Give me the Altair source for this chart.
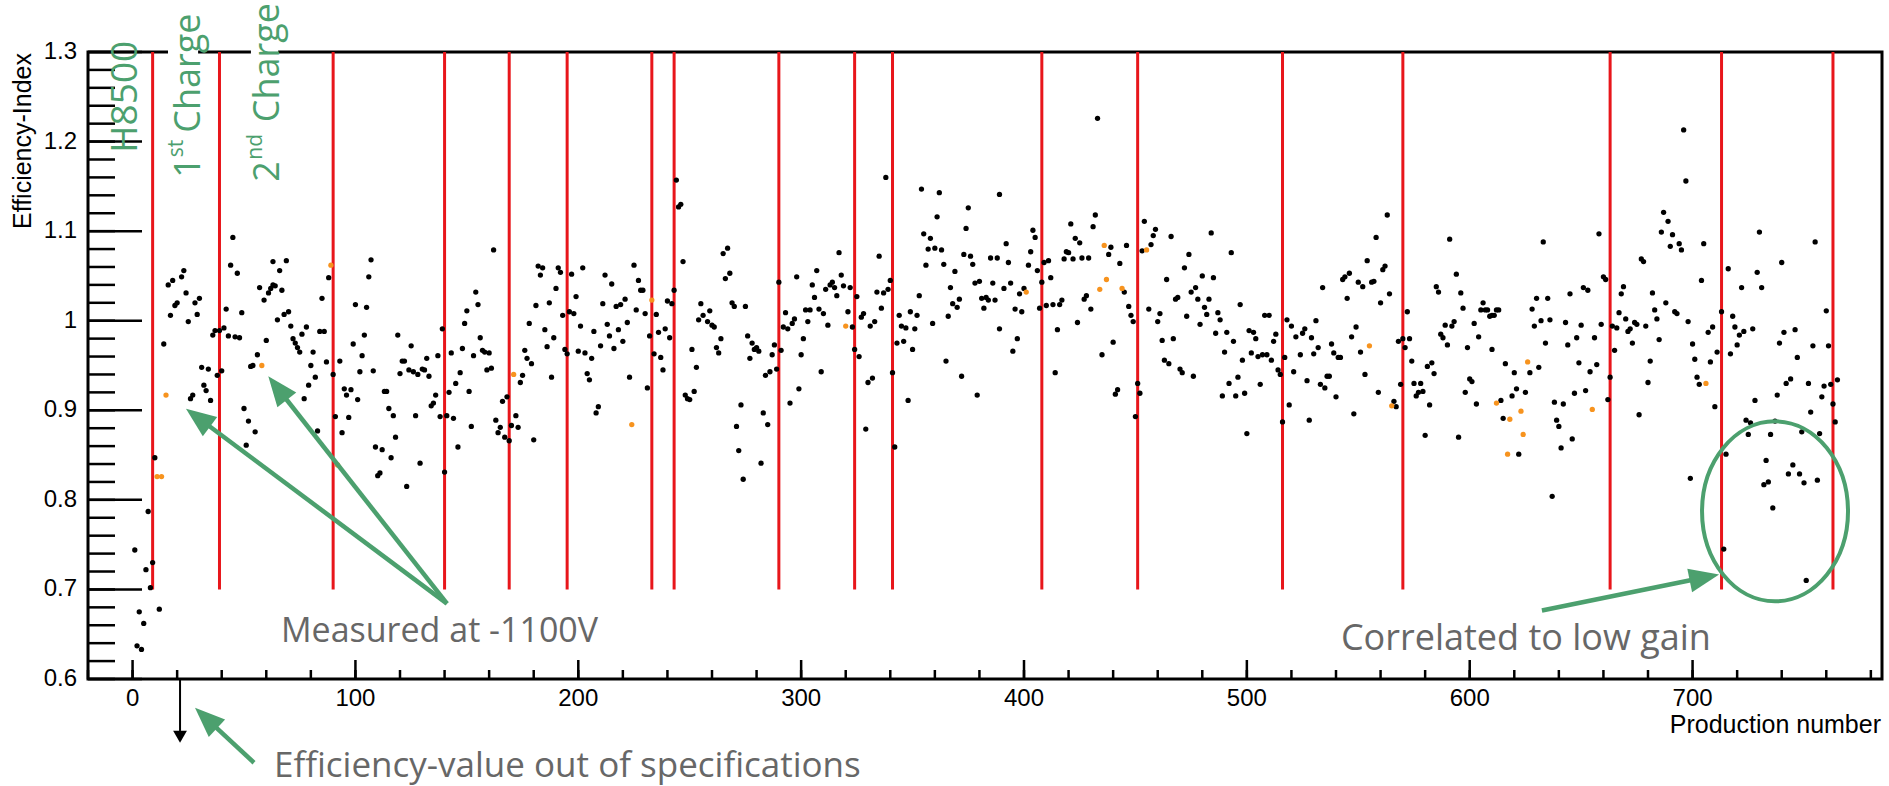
import math
import altair as alt
import pandas as pd

# ---------------- data (production number, efficiency index) ----------------
seg_000_120 = [
    (1, 0.744), (3, 0.675), (5, 0.662), (2, 0.637), (4, 0.633), (6, 0.722), (7, 0.787), (9, 0.730),
    (8, 0.702), (10, 0.847), (12, 0.678), (14, 0.974), (16, 1.040), (18, 1.045), (17, 1.006),
    (19, 1.017), (20, 1.020), (22, 1.049), (23, 1.056), (24, 1.031), (25, 0.999), (28, 1.020),
    (30, 1.025), (29, 1.007), (26, 0.913), (27, 0.917), (31, 0.948), (34, 0.946), (32, 0.928),
    (33, 0.922), (35, 0.911), (36, 0.984), (37, 0.989), (39, 0.989), (38, 0.939), (40, 0.944),
    (41, 0.992), (42, 1.013), (43, 0.983), (44, 1.062), (45, 1.093), (47, 1.053), (46, 0.982),
    (48, 0.981), (49, 1.009), (50, 0.902), (52, 0.888), (51, 0.861), (55, 0.876), (53, 0.949),
    (54, 0.950), (56, 0.962), (57, 1.037), (59, 1.023), (60, 0.978), (61, 1.031), (62, 1.036),
    (63, 1.040), (63, 1.066), (64, 1.039), (66, 1.056), (67, 1.034), (69, 1.067), (65, 1.001),
    (68, 1.007), (70, 1.010), (71, 0.994), (72, 0.980), (73, 0.975), (74, 0.970), (75, 0.965),
    (76, 0.985), (78, 0.993), (77, 0.913), (79, 0.928), (80, 0.950), (81, 0.965), (82, 0.937),
    (83, 0.877), (84, 0.988), (86, 0.988), (85, 1.025), (87, 0.954), (88, 1.048), (90, 0.940),
    (91, 0.893), (93, 0.955), (94, 0.875), (95, 0.924), (96, 0.917), (98, 0.923), (97, 0.892),
    (99, 0.974), (100, 1.018), (101, 0.912), (102, 0.943), (103, 0.961), (104, 0.984), (105, 1.015),
    (106, 1.049), (107, 1.068), (108, 0.944), (109, 0.859), (112, 0.856), (110, 0.827), (111, 0.830),
    (113, 0.921), (114, 0.921), (115, 0.902), (116, 0.847), (117, 0.894), (118, 0.870), (119, 0.984),
    (120, 0.941),
]
seg_120_255 = [
    (121, 0.955), (122, 0.955), (125, 0.972), (124, 0.945), (126, 0.943), (128, 0.940), (127, 0.894),
    (129, 0.841), (123, 0.815), (130, 0.946), (131, 0.945), (132, 0.958), (133, 0.938), (134, 0.905),
    (135, 0.908), (136, 0.917), (137, 0.961), (138, 0.893), (141, 0.894), (139, 0.991), (140, 0.831),
    (142, 0.920), (143, 0.964), (144, 0.891), (145, 0.930), (146, 0.859), (147, 0.942), (148, 0.969),
    (149, 0.997), (150, 1.011), (151, 0.921), (152, 0.882), (153, 0.961), (154, 1.032), (155, 1.018),
    (156, 0.981), (157, 0.967), (158, 0.965), (160, 0.964), (159, 0.945), (161, 0.947), (162, 1.079),
    (163, 0.889), (165, 0.881), (164, 0.875), (166, 0.910), (167, 0.870), (169, 0.866), (168, 0.915),
    (170, 0.883), (172, 0.894), (173, 0.881), (174, 0.931), (175, 0.939), (176, 0.967), (177, 0.958),
    (179, 0.952), (178, 0.997), (180, 0.867), (181, 1.017), (182, 1.061), (184, 1.059), (183, 1.051),
    (185, 0.990), (186, 0.971), (187, 1.020), (188, 0.937), (189, 0.981), (190, 1.036), (191, 1.059),
    (192, 1.054), (193, 1.006), (194, 0.968), (195, 0.963), (196, 1.010), (198, 1.008), (197, 1.052),
    (199, 1.027), (200, 0.966), (201, 0.994), (202, 1.059), (203, 0.964), (204, 0.941), (205, 0.934),
    (206, 0.958), (207, 0.988), (208, 0.897), (209, 0.904), (210, 0.972), (211, 1.019), (212, 1.051),
    (213, 0.996), (214, 0.983), (215, 1.041), (216, 0.969), (217, 1.016), (219, 1.018), (218, 0.990),
    (220, 0.977), (221, 1.024), (222, 0.998), (223, 0.937), (225, 1.062), (226, 1.012), (227, 1.045),
    (228, 1.034), (229, 1.034), (230, 1.008), (231, 0.925), (232, 0.983), (234, 0.963), (235, 1.007),
    (236, 0.987), (237, 0.959), (238, 0.945), (239, 0.991), (240, 1.022), (241, 0.981), (242, 1.019),
    (243, 1.034), (244, 1.157), (245, 1.127), (246, 1.130), (247, 1.066), (248, 0.917), (249, 0.913),
    (250, 0.912), (252, 0.921), (251, 0.968), (253, 0.948), (254, 1.001), (255, 1.019),
]
seg_255_390 = [
    (256, 1.006), (258, 0.999), (259, 1.011), (260, 0.995), (261, 0.993), (262, 0.970), (263, 0.964),
    (264, 0.980), (265, 1.075), (266, 1.047), (267, 1.081), (268, 1.053), (269, 1.020), (270, 1.016),
    (271, 0.882), (272, 0.855), (273, 0.906), (274, 0.823), (275, 1.016), (276, 0.983), (277, 0.958),
    (278, 0.975), (279, 0.968), (280, 0.970), (281, 0.966), (282, 0.841), (283, 0.897), (284, 0.939),
    (286, 0.943), (285, 0.884), (287, 0.962), (288, 0.973), (289, 0.946), (290, 1.043), (291, 0.967),
    (292, 0.993), (293, 1.009), (294, 0.991), (295, 0.908), (296, 0.997), (297, 1.002), (298, 1.049),
    (299, 0.924), (300, 0.962), (301, 0.980), (302, 1.012), (303, 0.999), (304, 1.012), (305, 1.040),
    (306, 1.026), (307, 1.056), (308, 1.013), (309, 0.943), (310, 1.008), (311, 1.035), (312, 0.995),
    (313, 1.040), (314, 1.043), (315, 1.037), (316, 1.028), (317, 1.076), (318, 1.051), (319, 1.039),
    (321, 1.010), (322, 1.037), (323, 0.993), (324, 0.968), (325, 1.027), (326, 0.960), (327, 1.004),
    (328, 1.008), (329, 0.879), (330, 0.931), (331, 0.994), (332, 0.936), (333, 0.999), (334, 1.032),
    (335, 1.072), (336, 1.014), (337, 1.031), (338, 1.160), (339, 1.035), (340, 1.045), (341, 0.942),
    (342, 0.859), (343, 0.975), (344, 1.006), (345, 0.994), (346, 0.977), (347, 0.992), (348, 0.911),
    (349, 1.010), (350, 0.968), (351, 0.991), (352, 1.006), (353, 1.028), (354, 1.147), (355, 1.097),
    (356, 1.062), (357, 1.080), (358, 1.092), (359, 0.997), (360, 1.081), (361, 1.116), (362, 1.143),
    (363, 1.079), (364, 1.063), (365, 0.955), (366, 1.005), (367, 1.037), (368, 1.019), (369, 1.055),
    (370, 1.015), (371, 1.024), (372, 0.938), (373, 1.074), (374, 1.103), (375, 1.126), (376, 1.072),
    (377, 1.063), (378, 1.042), (379, 0.917), (380, 1.044), (381, 1.025), (382, 1.014), (383, 1.026),
    (384, 1.023), (385, 1.070), (386, 1.042), (387, 1.023), (388, 1.070), (389, 0.991), (389, 1.141),
]
seg_390_524 = [
    (392, 1.086), (391, 1.036), (393, 1.065), (394, 1.042), (395, 0.966), (396, 1.013), (397, 0.980),
    (398, 1.030), (399, 1.010), (400, 1.036), (402, 1.062), (403, 1.077), (404, 1.101), (405, 1.093),
    (406, 1.056), (407, 1.014), (408, 1.043), (409, 1.065), (410, 1.017), (411, 1.067), (412, 1.048),
    (413, 1.018), (414, 0.942), (415, 0.990), (416, 1.018), (417, 1.023), (418, 1.069), (419, 1.077),
    (420, 1.076), (421, 1.108), (422, 1.069), (423, 1.092), (424, 0.998), (425, 1.087), (426, 1.070),
    (427, 1.024), (428, 1.028), (429, 1.070), (430, 1.013), (431, 1.105), (432, 1.118), (433, 1.226),
    (435, 0.962), (438, 1.074), (439, 1.082), (440, 0.976), (441, 0.918), (442, 0.923), (443, 1.064),
    (445, 1.032), (446, 1.084), (447, 1.016), (448, 1.006), (449, 0.999), (450, 0.893), (451, 0.930),
    (452, 0.919), (453, 1.078), (454, 1.111), (456, 1.013), (457, 1.085), (458, 1.095), (459, 1.102),
    (460, 0.999), (461, 1.008), (462, 0.978), (463, 0.956), (464, 1.046), (465, 0.952), (466, 1.094),
    (467, 0.980), (468, 1.024), (469, 1.026), (470, 0.946), (471, 0.942), (472, 1.059), (473, 1.005),
    (474, 1.074), (475, 1.032), (476, 0.938), (477, 1.037), (478, 1.024), (479, 0.996), (480, 1.050),
    (481, 1.015), (482, 1.007), (483, 1.024), (484, 1.098), (485, 1.048), (486, 0.986), (487, 1.009),
    (488, 1.001), (489, 0.916), (490, 0.965), (491, 0.987), (492, 0.930), (493, 1.076), (494, 0.977),
    (495, 0.916), (496, 0.937), (497, 1.018), (498, 0.956), (499, 0.919), (500, 0.874), (501, 0.989),
    (503, 0.987), (502, 0.964), (504, 0.980), (505, 0.960), (506, 0.929), (507, 0.962), (508, 1.006),
    (510, 1.006), (509, 0.962), (511, 0.956), (512, 0.977), (513, 0.985), (514, 0.945), (515, 0.940),
    (516, 0.887), (517, 0.959), (518, 1.001), (519, 0.906), (520, 0.994), (521, 0.943), (522, 0.982),
]
seg_524_659 = [
    (524, 0.962), (525, 0.986), (526, 0.991), (527, 0.933), (528, 0.889), (529, 0.981), (530, 0.963),
    (531, 1.000), (532, 0.970), (533, 0.929), (534, 1.037), (535, 0.925), (536, 0.938), (537, 0.938),
    (538, 0.974), (539, 0.964), (540, 0.915), (541, 0.959), (542, 0.959), (543, 1.046), (544, 1.049),
    (545, 1.025), (546, 1.053), (547, 0.982), (548, 0.896), (549, 0.993), (550, 1.043), (551, 0.965),
    (552, 1.038), (553, 0.940), (554, 1.067), (556, 1.043), (557, 1.044), (558, 1.093), (559, 0.920),
    (560, 1.020), (561, 1.057), (562, 1.061), (563, 1.118), (564, 1.030), (566, 0.910), (567, 0.904),
    (568, 0.977), (569, 0.929), (570, 0.980), (571, 0.970), (572, 1.010), (573, 0.980), (574, 0.955),
    (575, 0.930), (578, 0.930), (576, 0.916), (577, 0.920), (579, 0.921), (580, 0.872), (581, 0.949),
    (583, 0.953), (582, 0.906), (584, 0.941), (585, 1.038), (586, 1.032), (587, 0.985), (588, 0.981),
    (589, 0.995), (590, 0.973), (591, 1.091), (592, 0.994), (593, 0.999), (594, 1.052), (595, 0.870),
    (596, 1.031), (597, 1.014), (598, 0.920), (599, 0.970), (600, 0.935), (601, 0.932), (602, 0.997),
    (603, 0.907), (604, 0.982), (605, 1.012), (606, 1.020), (607, 1.012), (608, 1.012), (609, 1.005),
    (610, 1.006), (611, 1.006), (610, 0.968), (612, 1.012), (613, 1.012), (614, 0.911), (615, 0.891),
    (616, 0.952), (619, 0.916), (620, 0.942), (621, 0.924), (622, 0.851), (625, 0.920), (627, 0.942),
    (628, 1.013), (629, 0.994), (630, 1.025), (631, 0.948), (632, 1.000), (633, 1.088), (634, 0.975),
    (635, 1.025), (636, 1.001), (637, 0.804), (638, 0.909), (639, 0.889), (640, 0.882), (641, 0.858),
    (642, 0.907), (643, 0.998), (644, 0.973), (645, 1.030), (646, 0.868), (647, 0.919), (648, 0.981),
    (649, 0.953), (650, 0.995), (651, 1.037), (653, 1.034), (652, 0.922), (654, 0.943), (656, 0.981),
    (657, 0.951), (658, 1.097), (659, 0.996),
]
seg_659_770 = [
    (660, 1.049), (661, 1.046), (663, 0.937), (662, 0.912), (664, 0.994), (666, 0.992), (665, 0.967),
    (667, 1.009), (668, 1.030), (669, 1.038), (670, 1.002), (671, 0.988), (672, 0.991), (673, 0.975),
    (674, 0.998), (675, 0.996), (676, 0.895), (677, 1.069), (678, 1.066), (679, 0.994), (680, 0.931),
    (681, 0.955), (682, 1.031), (683, 1.012), (684, 1.002), (685, 0.979), (686, 1.099), (687, 1.121),
    (688, 1.020), (689, 1.111), (690, 1.083), (691, 1.096), (692, 1.010), (693, 1.008), (694, 1.086),
    (695, 1.079), (696, 1.213), (697, 1.156), (698, 0.999), (699, 0.824), (700, 0.974), (701, 0.957),
    (702, 0.937), (703, 0.929), (704, 1.045), (705, 1.086), (707, 0.987), (708, 0.954), (709, 0.993),
    (710, 0.904), (711, 0.965), (713, 1.010), (714, 0.745), (715, 0.851), (716, 1.058), (717, 0.963),
    (718, 1.005), (719, 0.993), (720, 0.973), (721, 0.984), (722, 1.037), (723, 0.988), (724, 0.889),
    (726, 0.886), (725, 0.873), (727, 0.991), (728, 0.911), (729, 1.054), (730, 1.099), (731, 1.037),
    (732, 0.817), (734, 0.820), (733, 0.844), (735, 0.873), (736, 0.791), (737, 0.888), (738, 0.917),
    (739, 0.975), (740, 1.065), (741, 0.987), (742, 0.930), (743, 0.829), (744, 0.935), (745, 0.839),
    (746, 0.990), (747, 0.959), (748, 0.829), (749, 0.876), (750, 0.819), (751, 0.710), (752, 0.930),
    (753, 0.898), (754, 0.972), (755, 1.088), (756, 0.822), (757, 0.874), (758, 0.915), (759, 0.927),
    (760, 1.011), (761, 0.972), (762, 0.929), (763, 0.907), (764, 0.887), (765, 0.934),
]
# PMTs measured at -1100 V (orange)
measured_1100v = [
    (11, 0.826), (13, 0.826), (15, 0.917), (58, 0.950), (89, 1.062), (92, 0.839), (171, 0.940),
    (224, 0.884), (233, 1.023), (320, 0.994), (401, 1.032), (434, 1.035), (436, 1.084), (437, 1.046),
    (444, 1.036), (455, 1.079), (555, 0.972), (565, 0.905), (612, 0.908), (617, 0.851), (618, 0.890),
    (623, 0.899), (624, 0.873), (626, 0.954), (655, 0.901), (706, 0.930),
]
# production numbers where a new delivery batch starts (red lines)
batch_starts = [9, 39, 90, 140, 169, 195, 233, 243, 290, 324, 341, 408, 451, 516, 570, 663, 713, 763]
batch_low, batch_high = 0.7, 1.3

x_labels = [0, 100, 200, 300, 400, 500, 600, 700]
x_label_text = ["0", "100", "200", "300", "400", "500", "600", "700"]
y_labels = [0.6, 0.7, 0.8, 0.9, 1.0, 1.1, 1.2, 1.3]
y_label_text = ["0.6", "0.7", "0.8", "0.9", "1", "1.1", "1.2", "1.3"]
x_ticks = list(range(-20, 781, 20))
y_ticks = [round(0.6 + 0.02 * i, 2) for i in range(36)]

# ---------------- layout / style ----------------
W, H = 1794, 627
XD, YD = [-20, 785], [0.6, 1.3]
XS = W / (XD[1] - XD[0])
YS = H / (YD[1] - YD[0])
GREEN = "#4ca06e"
GREY = "#676767"
RED = "#e8161b"
ORANGE = "#f7931e"
AXFONT = "Liberation Sans"
NOTEFONT = "Open Sans"

xscale = alt.Scale(domain=XD, nice=False, zero=False)
yscale = alt.Scale(domain=YD, nice=False, zero=False)


def X(field):
    return alt.X(field, type="quantitative", scale=xscale, axis=None)


def Y(field):
    return alt.Y(field, type="quantitative", scale=yscale, axis=None)


rows = [{"production": p, "efficiency": e, "hv": "nominal"}
        for seg in (seg_000_120, seg_120_255, seg_255_390, seg_390_524, seg_524_659, seg_659_770)
        for p, e in seg]
rows += [{"production": p, "efficiency": e, "hv": "-1100V"} for p, e in measured_1100v]
pts = pd.DataFrame(rows)

points = alt.Chart(pts).mark_circle(size=28, opacity=1).encode(
    x=X("production"),
    y=Y("efficiency"),
    color=alt.Color("hv:N", scale=alt.Scale(domain=["nominal", "-1100V"], range=["#000000", ORANGE]),
                    legend=None),
)

# ---------------- ROOT-style axes (inward ticks, labels, titles) ----------------
ytick_df = pd.DataFrame({"v": y_ticks})
ymaj_df = pd.DataFrame({"v": y_labels, "t": y_label_text})
xtick_df = pd.DataFrame({"v": x_ticks})
xmaj_df = pd.DataFrame({"v": x_labels, "t": x_label_text})
ytick_minor = alt.Chart(ytick_df).mark_rule(color="black", strokeWidth=2.5).encode(
    y=Y("v"), x=alt.value(0), x2=alt.value(27))
ytick_major = alt.Chart(ymaj_df).mark_rule(color="black", strokeWidth=2.5).encode(
    y=Y("v"), x=alt.value(0), x2=alt.value(54))
xtick_minor = alt.Chart(xtick_df).mark_rule(color="black", strokeWidth=2.5).encode(
    x=X("v"), y=alt.value(H), y2=alt.value(H - 9))
xtick_major = alt.Chart(xmaj_df).mark_rule(color="black", strokeWidth=2.5).encode(
    x=X("v"), y=alt.value(H), y2=alt.value(H - 19))
ylab = alt.Chart(ymaj_df).mark_text(align="right", baseline="middle", font=AXFONT, fontSize=24,
                                    color="black").encode(y=Y("v"), x=alt.value(-11), text="t:N")
xlab = alt.Chart(xmaj_df).mark_text(align="center", baseline="top", font=AXFONT, fontSize=24,
                                    color="black").encode(x=X("v"), y=alt.value(H + 8), text="t:N")
xtitle = alt.Chart(pd.DataFrame({"t": ["Production number"]})).mark_text(
    align="right", baseline="alphabetic", font=AXFONT, fontSize=25, color="black").encode(
    x=alt.value(W - 1), y=alt.value(H + 54), text="t:N")
ytitle = alt.Chart(pd.DataFrame({"t": ["Efficiency-Index"]})).mark_text(
    align="right", baseline="middle", angle=270, font=AXFONT, fontSize=25, color="black").encode(
    x=alt.value(-65), y=alt.value(1), text="t:N")

red_df = pd.DataFrame({"x": batch_starts, "lo": batch_low, "hi": batch_high})
red = alt.Chart(red_df).mark_rule(color=RED, strokeWidth=3).encode(x=X("x"), y=Y("lo"), y2="hi")

# ---------------- annotations ----------------
arrow_defs = [  # start (production, efficiency) -> tip
    (141.1, 0.6841, 23.97, 0.9018),
    (141.1, 0.6841, 60.90, 0.9379),
    (54.49, 0.5065, 28.01, 0.5679),
    (632.4, 0.6765, 711.9, 0.7167),
]
HEAD_LEN = 30
arows = []
for sx, sy, tx, ty in arrow_defs:
    dx = (tx - sx) * XS
    dy = -(ty - sy) * YS
    n = math.hypot(dx, dy)
    ux, uy = dx / n, dy / n
    arows.append({"sx": sx, "sy": sy, "ex": tx - ux * (HEAD_LEN * 0.6) / XS,
                  "ey": ty + uy * (HEAD_LEN * 0.6) / YS, "tx": tx, "ty": ty,
                  "ang": math.degrees(math.atan2(dx, -dy)) % 360})
arrow_df = pd.DataFrame(arows)
HEAD = "M0,0L0.8,2L-0.8,2Z"
arrow_lines = alt.Chart(arrow_df).mark_rule(color=GREEN, strokeWidth=4.5).encode(
    x=X("sx"), y=Y("sy"), x2="ex", y2="ey")
arrow_heads = alt.Chart(arrow_df).mark_point(shape=HEAD, filled=True, size=HEAD_LEN ** 2,
                                             color=GREEN, opacity=1).encode(
    x=X("tx"), y=Y("ty"), angle=alt.Angle("ang:Q", scale=None))

# black arrow below the axis: efficiency-value out of specification
spec_df = pd.DataFrame({"x": [21.3], "y0": [0.6], "y1": [0.5420], "tip": [0.5289], "ang": [180]})
spec_line = alt.Chart(spec_df).mark_rule(color="black", strokeWidth=2).encode(
    x=X("x"), y=Y("y0"), y2="y1")
spec_head = alt.Chart(spec_df).mark_point(shape="M0,0L1.15,2L-1.15,2Z", filled=True, size=144,
                                          color="black", opacity=1).encode(
    x=X("x"), y=Y("tip"), angle=alt.Angle("ang:Q", scale=None))

# ellipse around the low-gain PMTs
ELLIPSE = ("M0.811,0C0.811,0.552,0.448,1,0,1C-0.448,1,-0.811,0.552,-0.811,0"
           "C-0.811,-0.552,-0.448,-1,0,-1C0.448,-1,0.811,-0.552,0.811,0Z")
ell_df = pd.DataFrame({"x": [737.0], "y": [0.7872]})
ellipse = alt.Chart(ell_df).mark_point(shape=ELLIPSE, filled=False, size=180 ** 2, color=GREEN,
                                       strokeWidth=4, opacity=1).encode(x=X("x"), y=Y("y"))

# white boxes behind the rotated labels (cut the frame like the original)
gap_df = pd.DataFrame({"x0": [15.9, 53.1], "x1": [29.4, 65.3], "y0": [1.2955, 1.2955], "y1": [1.3045, 1.3045]})
gaps = alt.Chart(gap_df).mark_rect(color="white").encode(x=X("x0"), x2="x1", y=Y("y0"), y2="y1")

h_df = pd.DataFrame({"t": ["H8500"], "x": [1.99], "y": [1.1876]})
h_text = alt.Chart(h_df).mark_text(angle=270, align="left", baseline="alphabetic", font=NOTEFONT,
                                   fontSize=37, color=GREEN).encode(x=X("x"), y=Y("y"), text="t:N")
num_df = pd.DataFrame({"t": ["1", "2"], "x": [30.26, 65.70], "y": [1.1597, 1.1552]})
num_text = alt.Chart(num_df).mark_text(angle=270, align="left", baseline="alphabetic", font=NOTEFONT,
                                       fontSize=36, color=GREEN).encode(x=X("x"), y=Y("y"), text="t:N")
charge_df = pd.DataFrame({"t": ["Charge", "Charge"], "x": [30.26, 65.70], "y": [1.2099, 1.2216]})
charge_text = alt.Chart(charge_df).mark_text(angle=270, align="left", baseline="alphabetic",
                                             font=NOTEFONT, fontSize=36, color=GREEN).encode(
    x=X("x"), y=Y("y"), text="t:N")
sup_df = pd.DataFrame({"t": ["st", "nd"], "x": [22.63, 58.08], "y": [1.1826, 1.1798]})
sup_text = alt.Chart(sup_df).mark_text(angle=270, align="left", baseline="alphabetic", font=NOTEFONT,
                                       fontSize=21, color=GREEN).encode(x=X("x"), y=Y("y"), text="t:N")

note_df = pd.DataFrame({
    "t": ["Measured at -1100V", "Efficiency-value out of specifications", "Correlated to low gain"],
    "x": [66.6, 63.46, 542.2],
    "y": [0.6416, 0.4909, 0.6327],
    "s": [34, 35, 36],
})
notes = alt.Chart(note_df).mark_text(align="left", baseline="alphabetic", font=NOTEFONT,
                                     color=GREY).encode(
    x=X("x"), y=Y("y"), text="t:N", size=alt.Size("s:Q", scale=None, legend=None))

chart = alt.layer(
    ytick_minor, ytick_major, xtick_minor, xtick_major, ylab, xlab, xtitle, ytitle, red, points,
    arrow_lines, arrow_heads, spec_line, spec_head, ellipse, gaps,
    h_text, num_text, charge_text, sup_text, notes,
).properties(
    width=W, height=H,
    padding={"left": 88, "top": 52, "right": 7, "bottom": 107},
    autosize=alt.AutoSizeParams(type="none"),
).configure_view(stroke="black", strokeWidth=3)

chart.save("out.html", embed_options={"renderer": "svg", "actions": False})
